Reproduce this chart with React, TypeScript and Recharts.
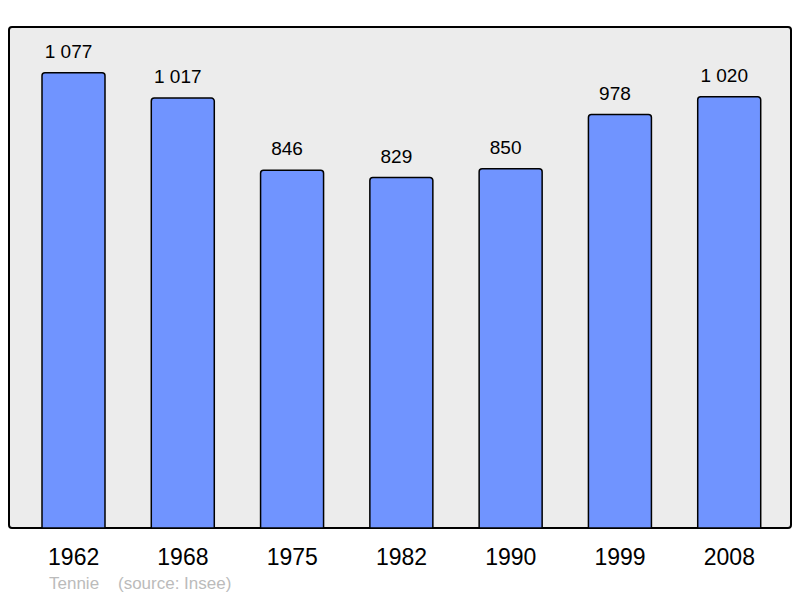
import { BarChart, Bar, XAxis, YAxis, LabelList } from 'recharts'

const years = ['1962', '1968', '1975', '1982', '1990', '1999', '2008']
const population = [1077, 1017, 846, 829, 850, 978, 1020]
const commune = 'Tennie'
const source = '(source: Insee)'

const chartData = years.map((year, i) => ({ year, value: population[i] }))

const formatPop = (v: number) => v.toLocaleString('fr-FR').replace(/\s/g, ' ')

const font = '"Liberation Sans", Arial, sans-serif'

// value labels sit a little left of the bar centre, as in the original
const renderLabel = (props: any) => {
  const { x, y, width, value } = props
  return (
    <text
      x={x + width / 2 - 5}
      y={y - 15}
      textAnchor="middle"
      fontSize={19}
      fontFamily={font}
      fill="#000"
    >
      {formatPop(value)}
    </text>
  )
}

export default function App() {
  return (
    <div style={{ position: 'fixed', left: 0, top: 0, width: 800, height: 598, background: '#fff' }}>
      <div
        style={{
          position: 'absolute',
          left: 8,
          top: 26,
          width: 780,
          height: 499,
          border: '2px solid #000',
          borderRadius: 4,
          background: '#ececec',
        }}
      />
      <div style={{ position: 'absolute', left: 0, top: 0 }}>
        <BarChart width={800} height={598} data={chartData} margin={{ top: 27, right: 9, bottom: 0, left: 9 }}>
          <XAxis
            dataKey="year"
            height={70}
            axisLine={false}
            tickLine={false}
            tickSize={0}
            tickMargin={21}
            padding={{ left: 10, right: 7 }}
            tick={{ fill: '#000', fontSize: 23, fontFamily: font }}
          />
          <YAxis hide domain={[0, 1185]} />
          <Bar dataKey="value" barSize={63} fill="#7094ff" stroke="#000" strokeWidth={1.5} radius={[3, 3, 0, 0]} isAnimationActive={false}>
            <LabelList dataKey="value" content={renderLabel} />
          </Bar>
        </BarChart>
      </div>
      <div
        style={{
          position: 'absolute',
          left: 49,
          top: 574,
          fontFamily: font,
          fontSize: 17,
          color: '#bbbbbb',
          whiteSpace: 'pre',
        }}
      >
        {commune + '    ' + source}
      </div>
    </div>
  )
}
